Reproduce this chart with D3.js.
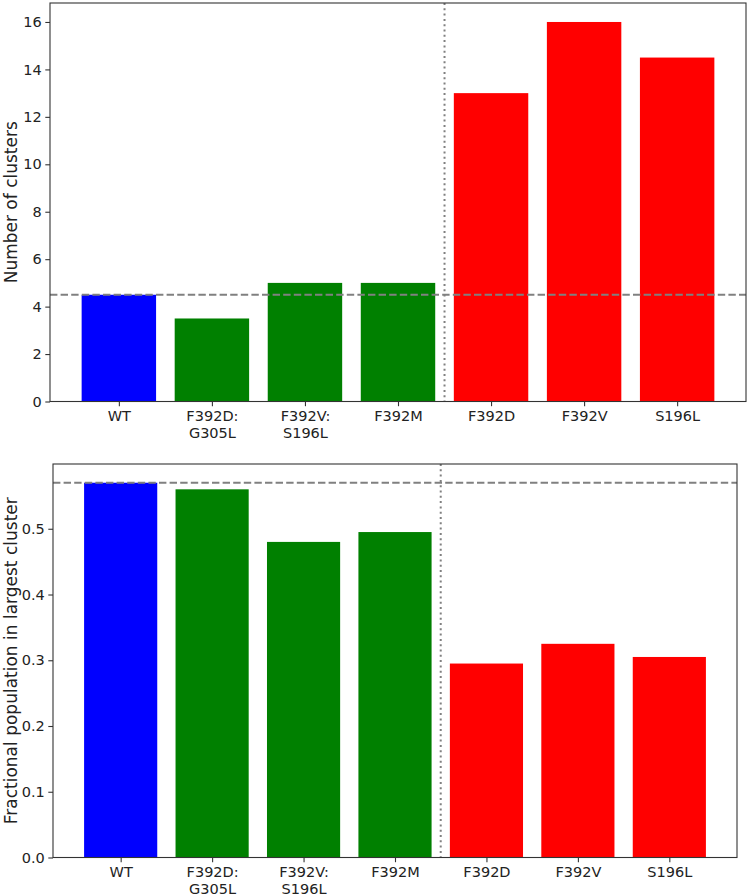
<!DOCTYPE html>
<html>
<head>
<meta charset="utf-8">
<script src="https://cdn.jsdelivr.net/npm/d3@7/dist/d3.min.js"></script>
<style>
  body { margin: 0; background: #fff; }
  svg { display: block; }
  text { font-family: "DejaVu Sans", sans-serif; fill: #222; }
</style>
</head>
<body>
<svg id="chart" width="750" height="896"></svg>
<script>
const categories = ["WT", "F392D:\nG305L", "F392V:\nS196L", "F392M", "F392D", "F392V", "S196L"];
const barColors = ["#0000ff", "#008000", "#008000", "#008000", "#ff0000", "#ff0000", "#ff0000"];
const clusterCounts = [4.5, 3.5, 5, 5, 13, 16, 14.5];
const largestFraction = [0.57, 0.56, 0.48, 0.495, 0.295, 0.325, 0.305];
const clusterTicks = [0, 2, 4, 6, 8, 10, 12, 14, 16];
const fractionTicks = [0.0, 0.1, 0.2, 0.3, 0.4, 0.5];
const clusterRef = 4.5;
const fractionRef = 0.57;
const dividerPos = 3.5;

const svg = d3.select("#chart");
const tickFont = "14.5px";
const labelFont = "17px";

function panel(opt) {
  const g = svg.append("g");
  const n = categories.length;
  const x = d3.scaleLinear().domain([-0.4 - 0.05 * 6.8, n - 1 + 0.4 + 0.05 * 6.8]).range([opt.left, opt.right]);
  const ymax = d3.max(opt.values) * 1.05;
  const y = d3.scaleLinear().domain([0, ymax]).range([opt.bottom, opt.top]);

  g.selectAll("rect.bar").data(opt.values).join("rect")
    .attr("class", "bar")
    .attr("x", (d, i) => x(i - 0.4))
    .attr("width", (d, i) => x(i + 0.4) - x(i - 0.4))
    .attr("y", d => y(d))
    .attr("height", d => y(0) - y(d))
    .attr("fill", (d, i) => barColors[i]);

  g.append("line")
    .attr("x1", opt.left).attr("x2", opt.right)
    .attr("y1", y(opt.ref)).attr("y2", y(opt.ref))
    .attr("stroke", "#808080").attr("stroke-width", 2)
    .attr("stroke-dasharray", "7.4,3.2");

  g.append("line")
    .attr("x1", x(dividerPos)).attr("x2", x(dividerPos))
    .attr("y1", opt.top).attr("y2", opt.bottom)
    .attr("stroke", "#808080").attr("stroke-width", 2)
    .attr("stroke-dasharray", "2,3.3");

  g.append("rect")
    .attr("x", opt.left).attr("y", opt.top)
    .attr("width", opt.right - opt.left).attr("height", opt.bottom - opt.top)
    .attr("fill", "none").attr("stroke", "#333").attr("stroke-width", 1.1);

  const yAxis = d3.axisLeft(y).tickValues(opt.ticks).tickSize(4.7).tickPadding(3.5).tickFormat(opt.fmt);
  const ya = g.append("g").attr("transform", `translate(${opt.left},0)`).call(yAxis);
  ya.select(".domain").remove();
  ya.selectAll(".tick line").attr("stroke", "#333").attr("stroke-width", 1.1);
  ya.selectAll(".tick text").attr("font-size", tickFont).attr("fill", "#222")
    .style("font-family", "'DejaVu Sans', sans-serif");

  const xAxis = d3.axisBottom(x).tickValues(d3.range(n)).tickSize(4.7).tickFormat("");
  const xa = g.append("g").attr("transform", `translate(0,${opt.bottom})`).call(xAxis);
  xa.select(".domain").remove();
  xa.selectAll(".tick line").attr("stroke", "#333").attr("stroke-width", 1.1);
  xa.selectAll(".tick").each(function(d) {
    const lines = categories[d].split("\n");
    const t = d3.select(this).append("text")
      .attr("text-anchor", "middle").attr("font-size", tickFont).attr("fill", "#222")
      .attr("y", 19);
    lines.forEach((s, k) => t.append("tspan").attr("x", 0).attr("dy", k === 0 ? 0 : 17).text(s));
  });

  g.append("text")
    .attr("transform", `translate(${opt.labelX},${(opt.top + opt.bottom) / 2}) rotate(-90)`)
    .attr("text-anchor", "middle").attr("font-size", labelFont)
    .text(opt.label);
}

panel({ left: 50, right: 746, top: 3, bottom: 401.5, values: clusterCounts, ref: clusterRef,
        ticks: clusterTicks, fmt: d3.format("d"), label: "Number of clusters", labelX: 16.5 });
panel({ left: 53, right: 737, top: 464, bottom: 857.5, values: largestFraction, ref: fractionRef,
        ticks: fractionTicks, fmt: d3.format(".1f"), label: "Fractional population in largest cluster", labelX: 16.5 });
</script>
</body>
</html>
